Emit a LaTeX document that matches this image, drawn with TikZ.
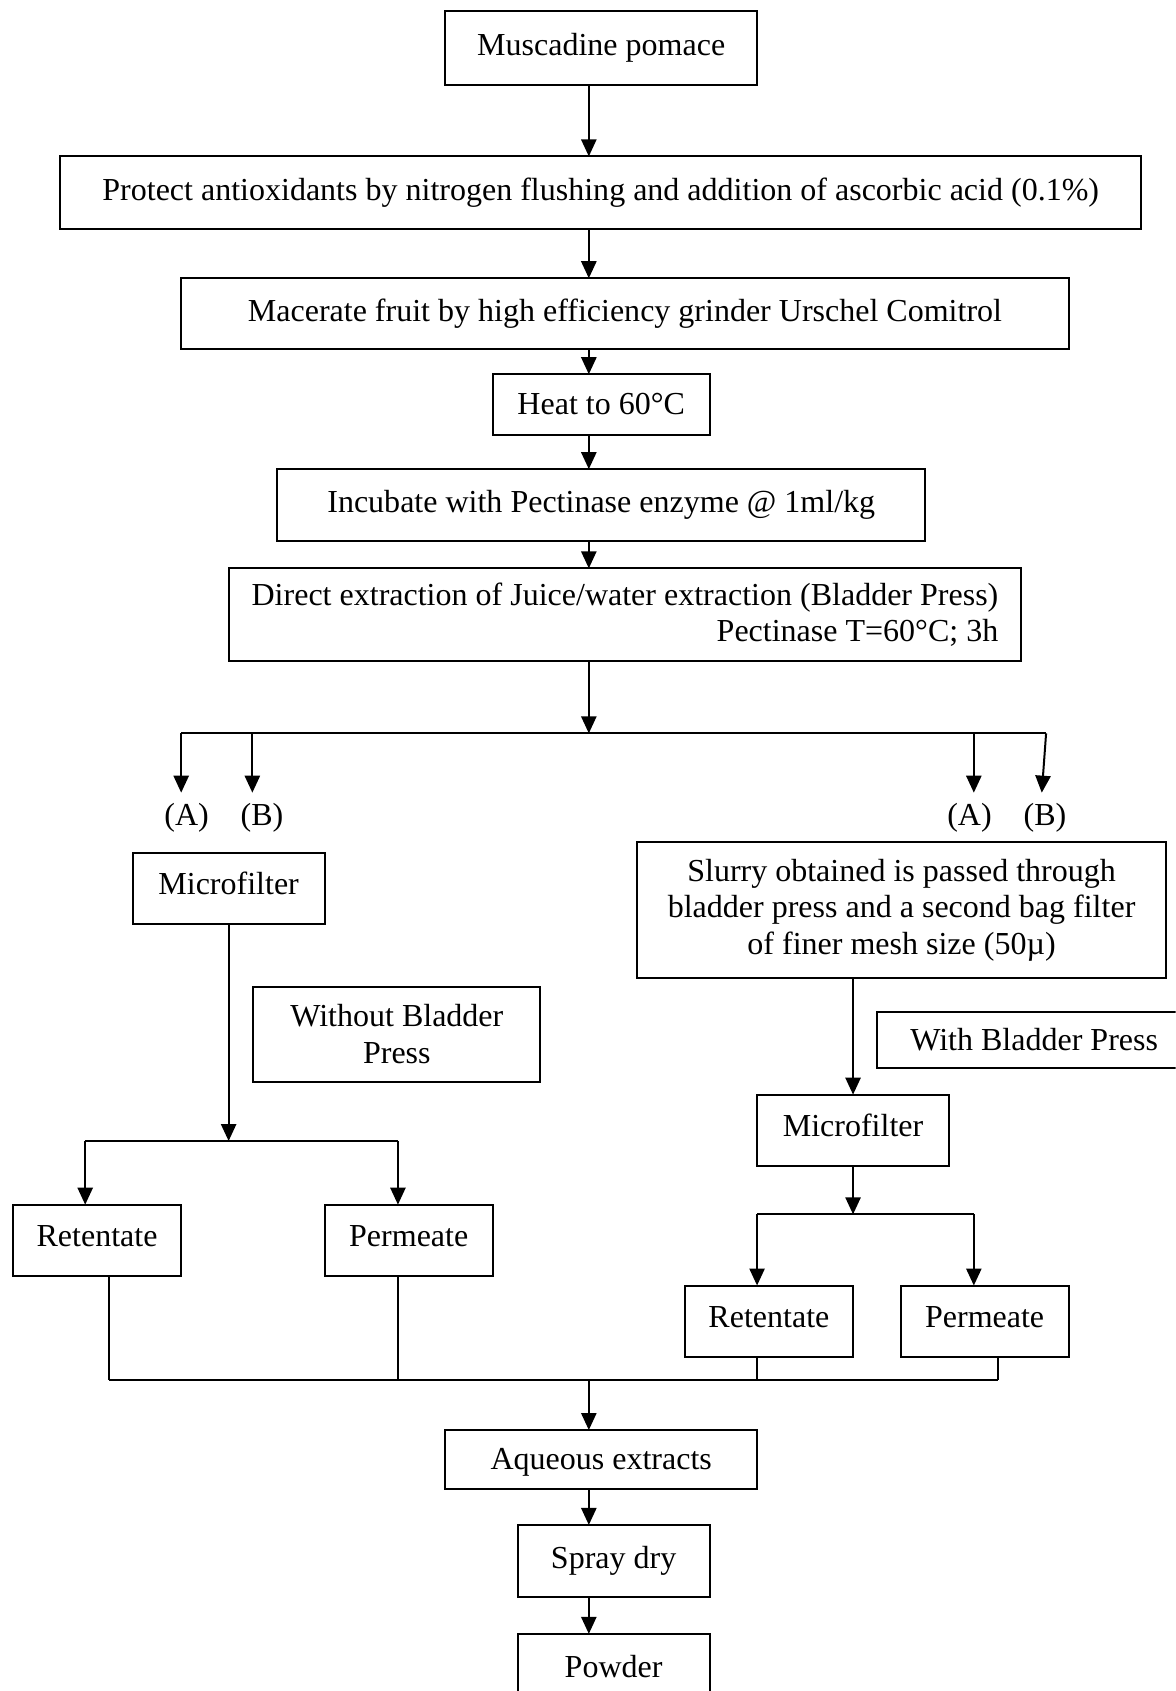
\documentclass[tikz,border=0pt]{standalone}
\usepackage{fontspec}
\setmainfont{Liberation Serif}
\usetikzlibrary{arrows.meta}
\newcommand\pxu{0.539pt}
\begin{document}
\begin{tikzpicture}[x=0.539pt,y=-0.539pt,
  fbox/.style={draw,line width=1pt,inner sep=0pt,outer sep=0pt,
    font=\fontsize{16}{18.4}\selectfont},
  hi/.style={text height=11pt,text depth=5pt},
  lo/.style={text height=11pt,text depth=1pt},
  lbl/.style={inner sep=0pt,font=\fontsize{16}{18.4}\selectfont},
  ln/.style={line width=1pt},
  arr/.style={line width=1pt,-{Triangle[length=8.5pt,width=7.6pt]}}]
\useasboundingbox (0,0) rectangle (1090,1568);
\clip (0,0) rectangle (1090,1568);

% main column
\node[fbox,minimum width={289*\pxu},minimum height={69*\pxu}] (pom) at (557.5,44.5) {Muscadine pomace};
\node[fbox,minimum width={1002*\pxu},minimum height={67*\pxu}] (prot) at (557,178.5)
  {Protect antioxidants by nitrogen flushing and addition of ascorbic acid (0.1\%)};
\node[fbox,minimum width={823*\pxu},minimum height={66*\pxu}] (mac) at (579.5,291)
  {Macerate fruit by high efficiency grinder Urschel Comitrol};
\node[fbox,minimum width={201*\pxu},minimum height={56*\pxu}] (heat) at (557.5,375) {Heat to 60°C};
\node[fbox,minimum width={601*\pxu},minimum height={67*\pxu}] (inc) at (557.5,468.5)
  {Incubate with Pectinase enzyme @ 1ml/kg};
\node[fbox,align=right,minimum width={735*\pxu},minimum height={86*\pxu}] (dir) at (579.5,570)
  {Direct extraction of Juice/water extraction (Bladder Press)\\Pectinase T=60°C; 3h};

\coordinate (ax) at (546,0);
\draw[arr] (pom.south -| ax) -- (prot.north -| ax);
\draw[arr] (prot.south -| ax) -- (mac.north -| ax);
\draw[arr] (mac.south -| ax) -- (heat.north -| ax);
\draw[arr] (heat.south -| ax) -- (inc.north -| ax);
\draw[arr] (inc.south -| ax) -- (dir.north -| ax);

% split into the two routes
\coordinate (sp) at (546,680);
\coordinate (spL) at (168,680);
\coordinate (spLB) at (234,680);
\coordinate (spRA) at (903,680);
\coordinate (spR) at (970,680);
\draw[arr] (dir.south -| ax) -- (sp);
\draw[ln] (spL) -- (spR);
\coordinate (tLA) at (168,735);
\coordinate (tLB) at (234,735);
\coordinate (tRA) at (903,735);
\coordinate (tRB) at (966,735);
\draw[arr] (spL) -- (tLA);
\draw[arr] (spLB) -- (tLB);
\draw[arr] (spRA) -- (tRA);
\draw[arr] (spR) -- (tRB);
\node[lbl] (lLA) at (173,758) {(A)};
\node[lbl] (lLB) at (243,758) {(B)};
\node[lbl] (lRA) at (899,758) {(A)};
\node[lbl] (lRB) at (969,758) {(B)};

% route without bladder press
\node[fbox,hi,minimum width={178*\pxu},minimum height={66*\pxu}] (mfL) at (212,824) {Microfilter};
\node[fbox,align=center,minimum width={266*\pxu},minimum height={88*\pxu}] (wo) at (368,959)
  {Without Bladder\\Press};
\node[fbox,hi,minimum width={156*\pxu},minimum height={66*\pxu}] (retL) at (90,1150) {Retentate};
\node[fbox,hi,minimum width={156*\pxu},minimum height={66*\pxu}] (perL) at (379,1150) {Permeate};
\coordinate (bL) at (212,1058);
\coordinate (bLl) at (79,1058);
\coordinate (bLr) at (369,1058);
\draw[arr] (mfL.south -| bL) -- (bL);
\draw[ln] (bLl) -- (bLr);
\draw[arr] (bLl) -- (retL.north -| bLl);
\draw[arr] (bLr) -- (perL.north -| bLr);

% route with bladder press
\node[fbox,align=center,minimum width={490*\pxu},minimum height={126*\pxu}] (slu) at (836,844)
  {Slurry obtained is passed through\\bladder press and a second bag filter\\of finer mesh size (50µ)};
\node[fbox,minimum width={292*\pxu},minimum height={52*\pxu}] (wi) at (959,964) {With Bladder Press};
\node[fbox,hi,minimum width={178*\pxu},minimum height={66*\pxu}] (mfR) at (791,1048) {Microfilter};
\node[fbox,hi,minimum width={156*\pxu},minimum height={66*\pxu}] (retR) at (713,1225) {Retentate};
\node[fbox,hi,minimum width={156*\pxu},minimum height={66*\pxu}] (perR) at (913,1225) {Permeate};
\coordinate (bR) at (791,1126);
\coordinate (bRl) at (702,1126);
\coordinate (bRr) at (903,1126);
\draw[arr] (slu.south -| mfR) -- (mfR.north);
\draw[arr] (mfR.south) -- (bR);
\draw[ln] (bRl) -- (bRr);
\draw[arr] (bRl) -- (retR.north -| bRl);
\draw[arr] (bRr) -- (perR.north -| bRr);

% collecting line
\coordinate (cL) at (101,1280);
\coordinate (cL2) at (369,1280);
\coordinate (cR1) at (702,1280);
\coordinate (cR) at (925,1280);
\coordinate (cM) at (546,1280);
\draw[ln] (cL) -- (cR);
\draw[ln] (retL.south -| cL) -- (cL);
\draw[ln] (perL.south -| cL2) -- (cL2);
\draw[ln] (retR.south -| cR1) -- (cR1);
\draw[ln] (perR.south -| cR) -- (cR);

% final steps
\node[fbox,lo,minimum width={289*\pxu},minimum height={55*\pxu}] (aq) at (557.5,1353.5) {Aqueous extracts};
\node[fbox,minimum width={178*\pxu},minimum height={67*\pxu}] (sd) at (569,1447.5) {Spray dry};
\node[fbox,minimum width={178*\pxu},minimum height={60*\pxu}] (pw) at (569,1545) {Powder};
\draw[arr] (cM) -- (aq.north -| ax);
\draw[arr] (aq.south -| ax) -- (sd.north -| ax);
\draw[arr] (sd.south -| ax) -- (pw.north -| ax);
\end{tikzpicture}
\end{document}
